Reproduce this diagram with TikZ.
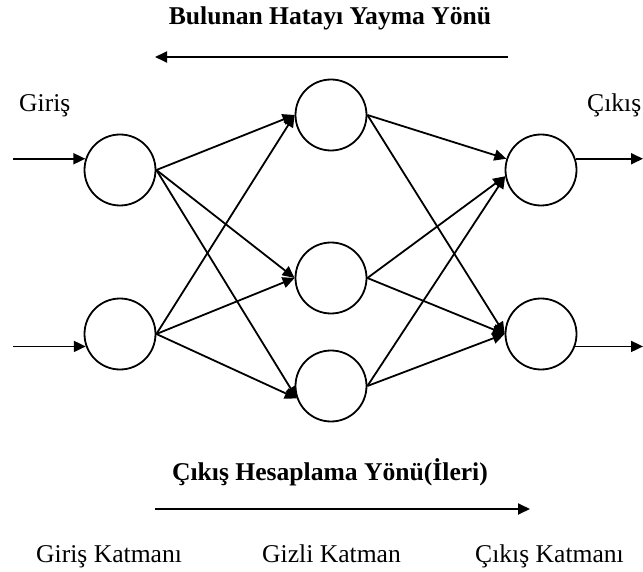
\documentclass[tikz,border=0pt]{standalone}
\usepackage{fontspec}
\setmainfont{Liberation Serif}
\usetikzlibrary{arrows.meta,positioning}

\begin{document}
\begin{tikzpicture}[
    x=1pt, y=-1pt,
    neuron/.style={circle, draw, minimum size=71pt, inner sep=0pt, line width=1.8pt},
    arrow/.style={-{Triangle[length=12pt,width=11pt]}, line width=1.8pt},
    lbl/.style={font=\fontsize{25.6}{30}\selectfont, inner sep=0pt},
    head/.style={font=\fontsize{25.6}{30}\selectfont\bfseries, inner sep=0pt}
]
\useasboundingbox (0,0) rectangle (643,572);

% layers
\node[neuron] (in1) at (120,170) {};
\node[neuron] (in2) at (120,334) {};
\node[neuron] (h1) at (331,115) {};
\node[neuron] (h2) at (331,278) {};
\node[neuron] (h3) at (331,386) {};
\node[neuron] (o1) at (541,170) {};
\node[neuron] (o2) at (541,334) {};

% texts
\node[head, anchor=base] (errtitle) at (330,25) {Bulunan Hatayı Yayma Yönü};
\node[lbl, anchor=base west] (giris) at (19,112) {Giriş};
\node[lbl, anchor=base west] (cikis) at (587,112) {Çıkış};
\node[head, anchor=base] (fwdtitle) at (330,480) {Çıkış Hesaplama Yönü(İleri)};
\node[lbl, anchor=base west] (lin) at (36,562) {Giriş Katmanı};
\node[lbl, anchor=base west] (lhid) at (262,562) {Gizli Katman};
\node[lbl, anchor=base west] (lout) at (475,562) {Çıkış Katmanı};

% direction arrows
\coordinate (errR) at (508,57);
\coordinate (errL) at (155,57);
\coordinate (fwdL) at (155,509);
\coordinate (fwdR) at (530,509);
\draw[arrow] (errR) -- (errL);
\draw[arrow] (fwdL) -- (fwdR);

% inputs and outputs
\coordinate (xl) at (13,0);
\coordinate (xr) at (643,0);
\draw[arrow] (in1.162 -| xl) -- (in1.162);
\draw[arrow] (in2.200 -| xl) -- (in2.200);
\draw[arrow] (o1.18) -- (o1.18 -| xr);
\draw[arrow] (o2.-20) -- (o2.-20 -| xr);

% input -> hidden
\draw[arrow] (in1.east) -- (h1.west);
\draw[arrow] (in1.east) -- (h2.west);
\draw[arrow] (in1.east) -- (h3.200);
\draw[arrow] (in2.east) -- (h1.west);
\draw[arrow] (in2.east) -- (h2.west);
\draw[arrow] (in2.east) -- (h3.200);

% hidden -> output
\draw[arrow] (h1.east) -- (o1.162);
\draw[arrow] (h1.east) -- (o2.west);
\draw[arrow] (h2.east) -- (o1.190);
\draw[arrow] (h2.east) -- (o2.west);
\draw[arrow] (h3.east) -- (o1.190);
\draw[arrow] (h3.east) -- (o2.west);
\end{tikzpicture}
\end{document}
